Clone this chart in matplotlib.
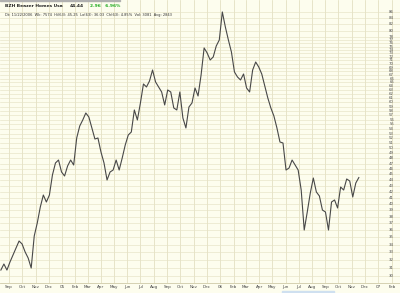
import matplotlib
matplotlib.use('Agg')
import matplotlib.pyplot as plt
import matplotlib.ticker as mticker
import pandas as pd

# weekly closes (BZH, Aug 2004 - Nov 2006)
first_week = '2004-08-13'
close = [30.70, 31.45, 30.70, 31.70, 32.60, 33.53, 34.48, 34.07, 33.00, 32.21,
         30.95, 35.18, 37.06, 39.50, 41.44, 40.30, 41.44, 44.90, 47.11, 47.67,
         45.44, 44.72, 46.55, 47.67, 46.73, 52.06, 54.62, 55.95, 57.53, 56.62,
         54.19, 51.85, 52.06, 49.22, 47.11, 44.01, 45.44, 45.80, 47.67, 45.80,
         48.06, 50.62, 52.69, 53.32, 58.23, 55.95, 59.88, 64.61, 63.84, 65.39,
         68.33, 65.13, 63.84, 62.58, 59.41, 63.08, 62.58, 58.70, 58.23, 62.58,
         56.40, 54.19, 58.93, 59.88, 63.58, 61.58, 66.98, 74.62, 73.14, 71.12,
         71.98, 75.22, 77.04, 86.18, 81.16, 77.04, 73.43, 67.79, 66.45, 65.65,
         67.25, 63.58, 62.58, 68.33, 70.55, 69.16, 67.25, 64.09, 61.09, 58.70,
         56.85, 54.19, 51.23, 51.03, 45.80, 46.17, 47.67, 46.73, 45.80, 42.28,
         36.03, 38.72, 41.78, 44.36, 41.95, 41.28, 39.03, 38.72, 36.03, 40.30,
         40.63, 39.35, 42.79, 42.28, 44.19, 43.83, 41.12, 43.48, 44.44]

price_levels = list(range(30, 79)) + [80, 82, 84, 86]
month_ticks = pd.date_range('2004-09-01', '2007-02-01', freq='MS')
month_labels = [d.strftime('%y') if d.month == 1 else d.strftime('%b') for d in month_ticks]

title = 'BZH Beazer Homes Usa'
last_info = '44.44'
change_info = '2.96   6.96%'
detail_line = 'Dt: 11/22/2006  Wk: 7574  Hi(63): 45.25  Lo(63): 36.03  Ch(63): 4.85%  Vol: 3081  Avg: 2843'

weeks = pd.date_range(first_week, periods=len(close), freq='7D')

bg = '#fdfdee'
grid_c = '#e6e2c6'

fig = plt.figure(figsize=(4.0, 2.93), dpi=100, facecolor=bg)
ax = fig.add_axes([0, 10 / 293, 1, 283 / 293])
ax.set_facecolor(bg)

ax.plot(weeks, close, color='#484848', lw=0.8)

ax.set_yscale('log')
ax.set_ylim(29.15, 90.4)
ax.set_xlim(pd.Timestamp('2004-08-11'), pd.Timestamp('2007-02-20'))

ax.yaxis.set_major_locator(mticker.FixedLocator(price_levels))
ax.yaxis.set_minor_locator(mticker.NullLocator())
ax.yaxis.set_major_formatter(mticker.NullFormatter())
ax.yaxis.set_minor_formatter(mticker.NullFormatter())
ax.tick_params(axis='y', length=0)
ax.grid(True, axis='y', color=grid_c, lw=0.45)

ax.set_xticks(month_ticks)
ax.set_xticklabels(month_labels)
ax.xaxis.set_minor_locator(mticker.NullLocator())
ax.tick_params(axis='x', length=0, labelsize=3.0, pad=1.2, colors='#444444')
ax.grid(True, axis='x', color='#dedab9', lw=0.5)
ax.set_axisbelow(True)

for s in ['top', 'left', 'right']:
    ax.spines[s].set_visible(False)
ax.spines['bottom'].set_color('#cfcaa8')
ax.spines['bottom'].set_linewidth(0.6)

ytr = ax.get_yaxis_transform()
for p in price_levels:
    ax.text(0.985, p, str(p), transform=ytr, ha='right', va='center',
            fontsize=2.8, color='#555555')

# header
ax.text(0.012, 0.985, title, transform=ax.transAxes, fontsize=3.2,
        fontweight='bold', color='#222222', va='top')
ax.text(0.175, 0.985, last_info, transform=ax.transAxes, fontsize=3.2,
        fontweight='bold', color='#222222', va='top')
ax.text(0.225, 0.985, change_info, transform=ax.transAxes, fontsize=3.2,
        fontweight='bold', color='#22aa22', va='top')
ax.text(0.012, 0.955, detail_line, transform=ax.transAxes, fontsize=2.6,
        color='#333333', va='top')

fig.patches.append(plt.Rectangle((0, 0.997), 0.3, 0.003, transform=fig.transFigure,
                                 color='#b0b0b0', zorder=5))
fig.patches.append(plt.Rectangle((0.705, 0), 0.13, 0.008, transform=fig.transFigure,
                                 color='#cfe0f0', zorder=5))

fig.savefig('out.png', dpi=100, facecolor=bg)
